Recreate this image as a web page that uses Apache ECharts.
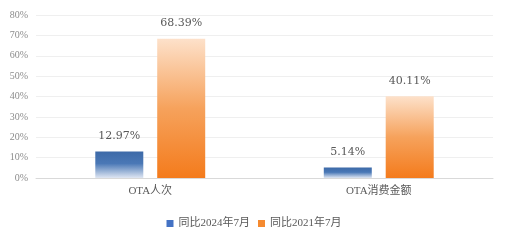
<!DOCTYPE html>
<html><head><meta charset="utf-8">
<script src="https://cdn.jsdelivr.net/npm/echarts@6/dist/echarts.min.js"></script>
<style>html,body{margin:0;padding:0;background:#fff}#c{width:508px;height:240px}</style>
</head><body><div id="c"></div>
<script>
var categories = ['OTA人次', 'OTA消费金额'];
var series2024 = [12.97, 5.14];
var series2021 = [68.39, 40.11];
var seriesNames = ['同比2024年7月', '同比2021年7月'];
var yTicks = [0, 10, 20, 30, 40, 50, 60, 70, 80];

var chart = echarts.init(document.getElementById('c'));
var serif = '"Liberation Serif", "Noto Sans CJK SC", serif';
var labelCfg = {
  show: true, position: 'top', distance: 10, color: '#595959', fontSize: 11,
  fontFamily: '"DejaVu Serif", serif', formatter: function(p){ return p.value.toFixed(2) + '%'; }
};
chart.setOption({
  animation: false,
  grid: { left: 36, right: 15, top: 15, bottom: 62 },
  legend: {
    bottom: 6, left: 'center', itemWidth: 7, itemHeight: 7, itemGap: 8,
    icon: 'rect',
    textStyle: { color: '#595959', fontSize: 11, fontFamily: serif },
    data: [
      { name: seriesNames[0], itemStyle: { color: '#4472c4' } },
      { name: seriesNames[1], itemStyle: { color: '#f58a30' } }
    ]
  },
  xAxis: {
    type: 'category', data: categories,
    axisLine: { lineStyle: { color: '#d9d9d9' } },
    axisTick: { show: false },
    axisLabel: { color: '#595959', fontSize: 11, fontFamily: serif, margin: 8 }
  },
  yAxis: {
    type: 'value', min: yTicks[0], max: yTicks[yTicks.length - 1], interval: 10,
    axisLine: { show: false }, axisTick: { show: false },
    splitLine: { lineStyle: { color: '#efefef' } },
    axisLabel: { color: '#8c8c8c', fontSize: 10, fontFamily: serif, margin: 8,
      formatter: function(v){ return v + '%'; } }
  },
  series: [
    {
      name: seriesNames[0], type: 'bar', data: series2024,
      barWidth: 48, barGap: '29%',
      itemStyle: { color: new echarts.graphic.LinearGradient(0, 0, 0, 1, [
        { offset: 0, color: '#3d6aa8' }, { offset: 0.45, color: '#4a78b6' },
        { offset: 1, color: '#dfe6f2' }]) },
      label: labelCfg
    },
    {
      name: seriesNames[1], type: 'bar', data: series2021,
      barWidth: 48,
      itemStyle: { color: new echarts.graphic.LinearGradient(0, 0, 0, 1, [
        { offset: 0, color: '#fde1ca' }, { offset: 0.5, color: '#f6a25c' },
        { offset: 1, color: '#f47b1c' }]) },
      label: labelCfg
    }
  ]
});
</script></body></html>
